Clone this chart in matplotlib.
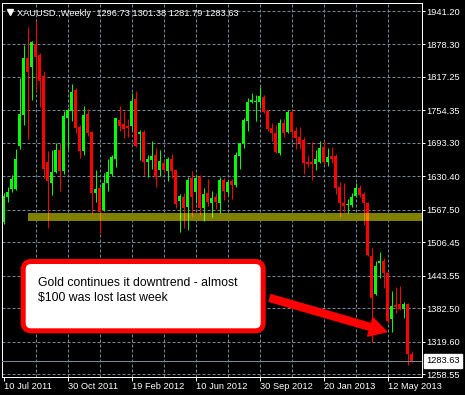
import matplotlib
matplotlib.use("Agg")
import matplotlib.pyplot as plt
import numpy as np
from matplotlib.lines import Line2D
from matplotlib.patches import FancyArrow, FancyBboxPatch, Rectangle
from matplotlib.transforms import Affine2D

W, H = 465, 395
DPI = 100

plt.rcParams['font.family'] = ['Liberation Sans', 'DejaVu Sans']

# --- data (one weekly bar per week, first bar = week of 10 Jul 2011) ---
symbol = "XAUUSD.,Weekly"
date_labels = ["10 Jul 2011", "30 Oct 2011", "19 Feb 2012", "10 Jun 2012",
               "30 Sep 2012", "20 Jan 2013", "12 May 2013"]
date_label_weeks = [0, 16, 32, 48, 64, 80, 96]
price_ticks = [1941.20, 1878.30, 1817.25, 1754.35, 1693.30, 1630.40,
               1567.50, 1506.45, 1443.55, 1382.50, 1319.60, 1258.55]
support_low, support_high = 1546.8, 1560.8
support_from_week = 6.1
note_lines = ["Gold continues it downtrend - almost",
              "$100 was lost last week"]

opens = np.array([
    1545.0, 1592.0, 1606.5, 1606.5, 1687.3, 1745.6, 1852.8, 1836.5, 1878.6, 1858.5,
    1819.0, 1656.7, 1618.3, 1639.0, 1679.8, 1640.3, 1740.5, 1753.7, 1792.6, 1723.6,
    1678.5, 1747.5, 1714.2, 1599.5, 1608.9, 1567.0, 1617.2, 1634.7, 1663.4, 1736.2,
    1728.7, 1724.9, 1725.5, 1775.1, 1709.9, 1714.2, 1657.8, 1661.0, 1670.4, 1642.2,
    1655.9, 1640.3, 1662.9, 1642.2, 1584.5, 1592.0, 1573.2, 1626.6, 1601.4, 1628.5,
    1571.3, 1598.4, 1580.7, 1592.0, 1580.7, 1623.4, 1601.4, 1621.5, 1614.0, 1668.5,
    1690.5, 1734.3, 1770.6, 1770.6, 1770.6, 1780.0, 1753.1, 1720.6, 1711.2, 1674.7,
    1731.2, 1714.2, 1751.8, 1715.5, 1703.7, 1698.6, 1657.8, 1657.8, 1653.5, 1656.7,
    1686.0, 1656.7, 1668.5, 1669.1, 1610.8, 1580.7, 1576.4, 1576.4, 1593.3, 1607.8,
    1597.1, 1580.7, 1480.5, 1408.4, 1466.7, 1471.6, 1447.9, 1362.0, 1388.3, 1390.2,
    1380.8, 1390.2, 1296.73])
highs = np.array([
    1598.4, 1610.8, 1632.8, 1681.1, 1814.6, 1877.3, 1911.7, 1885.4, 1922.4, 1862.8,
    1828.4, 1678.5, 1679.8, 1692.4, 1693.5, 1753.1, 1758.2, 1803.9, 1795.8, 1726.8,
    1762.5, 1756.3, 1715.5, 1642.2, 1610.0, 1636.0, 1662.3, 1670.4, 1740.5, 1762.5,
    1753.7, 1737.5, 1787.6, 1790.8, 1717.4, 1717.4, 1670.4, 1696.7, 1683.0, 1679.8,
    1661.0, 1667.2, 1671.7, 1643.0, 1597.1, 1598.4, 1629.6, 1640.3, 1632.8, 1632.8,
    1608.9, 1625.3, 1602.7, 1598.4, 1629.6, 1627.7, 1623.4, 1625.3, 1676.6, 1693.0,
    1740.5, 1778.2, 1786.4, 1783.2, 1797.7, 1783.0, 1755.0, 1730.0, 1726.8, 1737.5,
    1737.5, 1755.0, 1755.0, 1723.6, 1723.6, 1704.8, 1668.5, 1695.4, 1679.8, 1696.7,
    1696.7, 1683.0, 1684.9, 1671.7, 1619.1, 1618.3, 1587.7, 1598.4, 1617.2, 1614.0,
    1601.4, 1582.6, 1494.9, 1471.6, 1488.5, 1476.1, 1449.0, 1415.2, 1422.7, 1424.6,
    1394.5, 1391.5, 1301.38])
lows = np.array([
    1540.1, 1582.6, 1601.4, 1604.6, 1681.7, 1726.8, 1700.5, 1773.8, 1790.8, 1761.2,
    1626.6, 1532.6, 1595.2, 1637.1, 1603.3, 1634.1, 1681.1, 1734.3, 1712.0, 1665.3,
    1670.0, 1706.1, 1559.4, 1582.6, 1523.1, 1565.6, 1603.3, 1630.0, 1648.4, 1716.1,
    1702.9, 1704.8, 1718.0, 1686.0, 1661.0, 1632.8, 1628.5, 1644.1, 1610.8, 1630.9,
    1637.0, 1622.1, 1626.6, 1571.3, 1526.1, 1532.6, 1529.4, 1554.4, 1579.6, 1557.6,
    1546.8, 1575.0, 1554.4, 1568.3, 1560.8, 1585.8, 1596.0, 1587.7, 1609.6, 1644.1,
    1684.1, 1715.5, 1768.2, 1734.9, 1759.4, 1749.0, 1716.0, 1696.7, 1673.6, 1670.4,
    1703.7, 1712.3, 1701.8, 1681.7, 1684.1, 1634.7, 1648.4, 1623.4, 1642.2, 1655.0,
    1653.0, 1650.3, 1655.4, 1597.1, 1554.4, 1563.8, 1560.8, 1573.2, 1590.8, 1592.0,
    1538.8, 1480.5, 1319.3, 1407.0, 1438.5, 1419.7, 1353.9, 1338.1, 1373.8, 1378.0,
    1363.3, 1275.5, 1281.79])
closes = np.array([
    1593.9, 1601.4, 1625.3, 1662.3, 1747.5, 1852.8, 1827.1, 1883.5, 1855.3, 1810.1,
    1643.5, 1621.5, 1637.9, 1679.8, 1640.3, 1743.7, 1755.0, 1789.4, 1721.7, 1678.5,
    1745.6, 1711.2, 1598.4, 1606.5, 1563.8, 1617.2, 1637.9, 1666.1, 1739.4, 1725.5,
    1719.3, 1721.7, 1771.9, 1687.3, 1714.2, 1657.8, 1662.9, 1668.5, 1629.6, 1659.1,
    1642.2, 1662.9, 1640.3, 1578.3, 1593.3, 1571.3, 1623.4, 1592.0, 1627.7, 1571.3,
    1597.1, 1582.6, 1590.1, 1582.6, 1623.4, 1602.7, 1619.6, 1614.0, 1670.4, 1692.4,
    1736.2, 1770.6, 1773.8, 1772.5, 1781.3, 1751.8, 1719.3, 1711.2, 1676.6, 1731.2,
    1712.3, 1751.8, 1714.2, 1702.9, 1692.4, 1655.9, 1653.5, 1653.5, 1662.3, 1684.1,
    1656.7, 1666.1, 1662.9, 1608.9, 1580.7, 1575.0, 1578.3, 1590.8, 1607.8, 1595.2,
    1580.7, 1482.3, 1402.0, 1461.6, 1471.6, 1447.9, 1358.2, 1386.4, 1385.1, 1380.8,
    1389.6, 1295.6, 1283.63])

weeks = np.arange(len(opens))
bid = closes[-1]

GRID = '#778899'
PX = 0.72  # one pixel in points at 100 dpi


def draw_candles(ax, up_color, down_color, zorder, clip=None):
    up = closes >= opens
    colors = np.where(up, up_color, down_color)
    wicks = ax.vlines(weeks, lows, highs, colors=colors, lw=PX, zorder=zorder)
    # doji bars still get a one pixel body
    mid = (opens + closes) / 2
    heights = np.maximum(np.abs(closes - opens), 1.9)
    bars = ax.bar(weeks, heights, bottom=mid - heights / 2, width=0.75,
                  color=colors, lw=0, zorder=zorder)
    if clip is not None:
        wicks.set_clip_path(clip)
        for b in bars:
            b.set_clip_path(clip)


fig = plt.figure(figsize=(W / DPI, H / DPI), dpi=DPI, facecolor='black')
ax = fig.add_axes([2 / W, 18.3 / H, 420 / W, 373.4 / H], facecolor='black')
ax.set_xlim(-0.375, 104.625)
ax.set_ylim(1253.5, 1955.7)

# pixel coordinates (origin top-left) for the drawn objects
pix = Affine2D().scale(1, -1).translate(0, H).scale(1 / W, 1 / H) + fig.transFigure

for p in price_ticks:
    ax.axhline(p, color=GRID, lw=PX, dashes=(3, 2), zorder=0.5)
for wk in range(8, len(opens), 8):
    ax.axvline(wk, color=GRID, lw=PX, dashes=(3, 2), zorder=0.5)

xl, xr = ax.get_xlim()
band = Rectangle((support_from_week, support_low), xr - support_from_week,
                 support_high - support_low, facecolor='#808000', lw=0, zorder=1)
ax.add_patch(band)

draw_candles(ax, '#00FF00', '#FF0000', zorder=2)
# where candles cross the support box the colours mix (MT4 style)
draw_candles(ax, '#80FF00', '#FF8000', zorder=2.5, clip=band)

ax.axhline(bid, color=GRID, lw=PX, zorder=3)

# axes look
ax.yaxis.tick_right()
ax.set_yticks(price_ticks)
ax.set_yticklabels([f"{p:.2f}" for p in price_ticks])
ax.set_xticks(date_label_weeks)
ax.set_xticklabels(date_labels, ha='left')
ax.tick_params(colors='white', labelsize=6.7, width=PX)
ax.tick_params(axis='y', length=2.2, pad=1.0)
ax.tick_params(axis='x', length=2.9, pad=0.6)
for s in ax.spines.values():
    s.set_color('white')
    s.set_linewidth(PX)

ax.annotate(f"{bid:.2f}", xy=(1, bid), xycoords=('axes fraction', 'data'),
            xytext=(3.3, 0), textcoords='offset points', va='center', ha='left',
            fontsize=6.7, color='black', annotation_clip=False, zorder=7,
            bbox=dict(boxstyle='square,pad=0.25', fc='white', ec='white'))

# header
fig.add_artist(Line2D([10], [11.5], marker='v', markersize=4, color='white',
                      lw=0, transform=pix))
header = f"{symbol}  {opens[-1]:.2f} {highs[-1]:.2f} {lows[-1]:.2f} {closes[-1]:.2f}"
fig.text(17.3, 15.7, header, transform=pix, color='white', fontsize=6.7,
         va='baseline', ha='left')

# callout
box = FancyBboxPatch((23.2, 261.5), 240, 69.3,
                     boxstyle='round,pad=0,rounding_size=8',
                     fc='white', ec='red', lw=3.6, transform=pix, zorder=6)
fig.add_artist(box)
for k, line in enumerate(note_lines):
    fig.text(38.3, 286 + 15.5 * k, line, transform=pix, color='black',
             fontsize=8.8, va='baseline', ha='left', zorder=7)

arrow = FancyArrow(270, 298, 116.7, 33.7, width=7, head_width=19,
                   head_length=17, length_includes_head=True, fc='red',
                   ec='red', lw=1, joinstyle='round', transform=pix, zorder=6)
fig.add_artist(arrow)

fig.savefig("out.png", dpi=DPI, facecolor='black')
